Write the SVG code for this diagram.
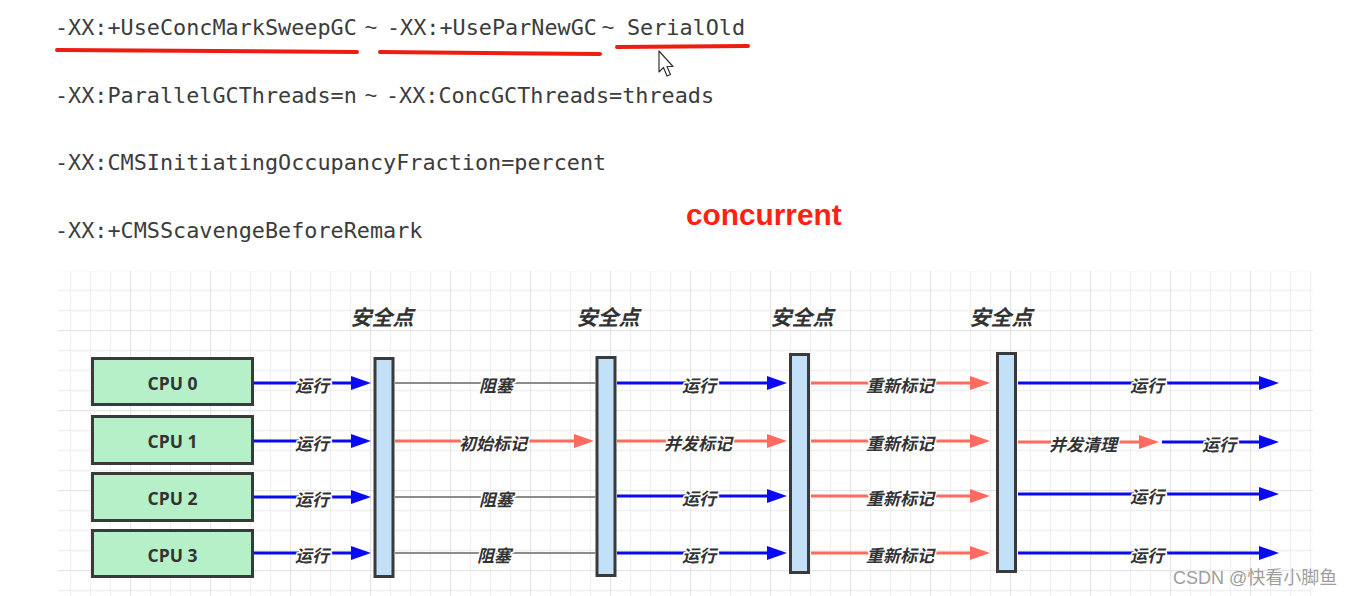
<svg xmlns="http://www.w3.org/2000/svg" width="1358" height="596" viewBox="0 0 1358 596">
<style>
.mono{font-family:"DejaVu Sans Mono","Liberation Mono",monospace;font-size:21.8px;fill:#3c3c3c}
.tilde{font-family:"Liberation Sans",Arial,sans-serif;font-size:22px;fill:#3c3c3c;text-anchor:middle}
.ul{stroke:#ee1d12;stroke-width:4;stroke-linecap:round;fill:none}
.cpu rect{fill:#b6f0c8;stroke:#3a3a3a;stroke-width:3}
.cpu text{font-family:"Open Sans","Liberation Sans",sans-serif;font-weight:700;font-size:17.5px;fill:#333;text-anchor:middle}
.bar rect{fill:#c2e0f8;stroke:#3a3a3a;stroke-width:3}
.hdr{font-family:"Noto Sans CJK SC","Noto Sans",sans-serif;font-weight:700;font-style:italic;font-size:21px;fill:#333;text-anchor:middle}
.lbl{font-family:"Noto Sans CJK SC","Noto Sans",sans-serif;font-weight:700;font-style:italic;font-size:17px;fill:#333;text-anchor:middle;stroke:#fff;stroke-width:3;paint-order:stroke;stroke-linejoin:round}
.blue{stroke:#0a0af0;stroke-width:2.8;fill:none}
.red{stroke:#ff6b5e;stroke-width:2.8;fill:none}
.gray{stroke:#8c8c8c;stroke-width:2;fill:none}
</style>
<defs>
<pattern id="grid" patternUnits="userSpaceOnUse" x="50" y="10" width="80" height="80">
<path d="M20.5,0V80M40.5,0V80M60.5,0V80M0,20.5H80M0,40.5H80M0,60.5H80" stroke="#f0f0f0" stroke-width="1.3" fill="none"/>
<path d="M0.5,0V80M0,0.5H80" stroke="#e5e5e5" stroke-width="1.3" fill="none"/>
</pattern>
<marker id="mb" markerUnits="userSpaceOnUse" markerWidth="20" markerHeight="14" refX="4" refY="7" orient="auto">
<path d="M0,0L20,7L0,14z" fill="#0a0af0"/>
</marker>
<marker id="mr" markerUnits="userSpaceOnUse" markerWidth="20" markerHeight="14" refX="4" refY="7" orient="auto">
<path d="M0,0L20,7L0,14z" fill="#ff6b5e"/>
</marker>
</defs>
<rect width="1358" height="596" fill="#ffffff"/>

<g id="options">
<text class="mono" x="55" y="35">-XX:+UseConcMarkSweepGC</text>
<text class="tilde" x="371" y="35">~</text>
<text class="mono" x="387" y="35">-XX:+UseParNewGC</text>
<text class="tilde" x="608" y="35">~</text>
<text class="mono" x="627" y="35">SerialOld</text>
<path class="ul" d="M57,50L357,52"/>
<path class="ul" d="M380,52L600,54"/>
<path class="ul" d="M617,47L748,46"/>
<path d="M659,51V72L663.5,67.5L667,76L670.5,74.5L667,66.5H673Z" fill="#fff" stroke="#333" stroke-width="1.2" stroke-linejoin="round"/>
<text class="mono" x="55" y="103">-XX:ParallelGCThreads=n</text>
<text class="tilde" x="371" y="103">~</text>
<text class="mono" x="386" y="103">-XX:ConcGCThreads=threads</text>
<text class="mono" x="55" y="170">-XX:CMSInitiatingOccupancyFraction=percent</text>
<text class="mono" x="55" y="238">-XX:+CMSScavengeBeforeRemark</text>
<text x="686" y="225" font-family="Liberation Sans,Arial,sans-serif" font-weight="700" font-size="29.8" fill="#ff2212">concurrent</text>
</g>

<rect id="grid-bg" x="58" y="271" width="1255" height="325" fill="url(#grid)"/>

<g id="headers">
<text class="hdr" x="382" y="325">安全点</text>
<text class="hdr" x="608" y="325">安全点</text>
<text class="hdr" x="802" y="325">安全点</text>
<text class="hdr" x="1001" y="325">安全点</text>
</g>

<g id="cpu0" class="cpu"><rect x="92.5" y="358.5" width="160" height="46"/><text x="172.5" y="390">CPU 0</text></g>
<g id="cpu1" class="cpu"><rect x="92.5" y="416.5" width="160" height="47"/><text x="172.5" y="448">CPU 1</text></g>
<g id="cpu2" class="cpu"><rect x="92.5" y="473.5" width="160" height="47"/><text x="172.5" y="505">CPU 2</text></g>
<g id="cpu3" class="cpu"><rect x="92.5" y="530.5" width="160" height="46"/><text x="172.5" y="562">CPU 3</text></g>

<g id="bar1" class="bar"><rect x="375" y="358.5" width="18" height="218"/></g>
<g id="bar2" class="bar"><rect x="597" y="357.5" width="18" height="218"/></g>
<g id="bar3" class="bar"><rect x="790.5" y="354.5" width="18" height="218"/></g>
<g id="bar4" class="bar"><rect x="997.5" y="353.5" width="18" height="218"/></g>

<g id="connectors">
<line class="blue" x1="254" y1="383" x2="355" y2="383" marker-end="url(#mb)"/>
<line class="blue" x1="254" y1="441" x2="355" y2="441" marker-end="url(#mb)"/>
<line class="blue" x1="254" y1="497" x2="355" y2="497" marker-end="url(#mb)"/>
<line class="blue" x1="254" y1="553" x2="355" y2="553" marker-end="url(#mb)"/>
<text class="lbl" x="312" y="392">运行</text>
<text class="lbl" x="312" y="450">运行</text>
<text class="lbl" x="312" y="506">运行</text>
<text class="lbl" x="312" y="562">运行</text>
<line class="gray" x1="395" y1="383" x2="596" y2="383"/>
<line class="red" x1="395" y1="441" x2="578" y2="441" marker-end="url(#mr)"/>
<line class="gray" x1="395" y1="497" x2="596" y2="497"/>
<line class="gray" x1="395" y1="553" x2="596" y2="553"/>
<text class="lbl" x="496" y="392">阻塞</text>
<text class="lbl" x="493" y="450">初始标记</text>
<text class="lbl" x="496" y="506">阻塞</text>
<text class="lbl" x="494" y="562">阻塞</text>
<line class="blue" x1="617" y1="383" x2="771" y2="383" marker-end="url(#mb)"/>
<line class="red" x1="617" y1="441" x2="771" y2="441" marker-end="url(#mr)"/>
<line class="blue" x1="617" y1="496" x2="771" y2="496" marker-end="url(#mb)"/>
<line class="blue" x1="617" y1="553" x2="771" y2="553" marker-end="url(#mb)"/>
<text class="lbl" x="699" y="392">运行</text>
<text class="lbl" x="698" y="450">并发标记</text>
<text class="lbl" x="699" y="505">运行</text>
<text class="lbl" x="699" y="562">运行</text>
<line class="red" x1="811" y1="383" x2="974" y2="383" marker-end="url(#mr)"/>
<line class="red" x1="811" y1="441" x2="974" y2="441" marker-end="url(#mr)"/>
<line class="red" x1="811" y1="496" x2="974" y2="496" marker-end="url(#mr)"/>
<line class="red" x1="811" y1="553" x2="974" y2="553" marker-end="url(#mr)"/>
<text class="lbl" x="900" y="392">重新标记</text>
<text class="lbl" x="900" y="450">重新标记</text>
<text class="lbl" x="900" y="505">重新标记</text>
<text class="lbl" x="900" y="562">重新标记</text>
<line class="blue" x1="1018" y1="383" x2="1263" y2="383" marker-end="url(#mb)"/>
<line class="red" x1="1018" y1="442" x2="1143" y2="442" marker-end="url(#mr)"/>
<line class="blue" x1="1162" y1="442" x2="1263" y2="442" marker-end="url(#mb)"/>
<line class="blue" x1="1018" y1="494" x2="1263" y2="494" marker-end="url(#mb)"/>
<line class="blue" x1="1018" y1="553" x2="1263" y2="553" marker-end="url(#mb)"/>
<text class="lbl" x="1147" y="392">运行</text>
<text class="lbl" x="1083" y="451">并发清理</text>
<text class="lbl" x="1219" y="451">运行</text>
<text class="lbl" x="1147" y="503">运行</text>
<text class="lbl" x="1147" y="562">运行</text>
</g>

<text id="watermark" x="1173" y="584" font-family="Liberation Sans,Noto Sans CJK SC,sans-serif" font-size="18" fill="#9e9e9e">CSDN @快看小脚鱼</text>
</svg>
